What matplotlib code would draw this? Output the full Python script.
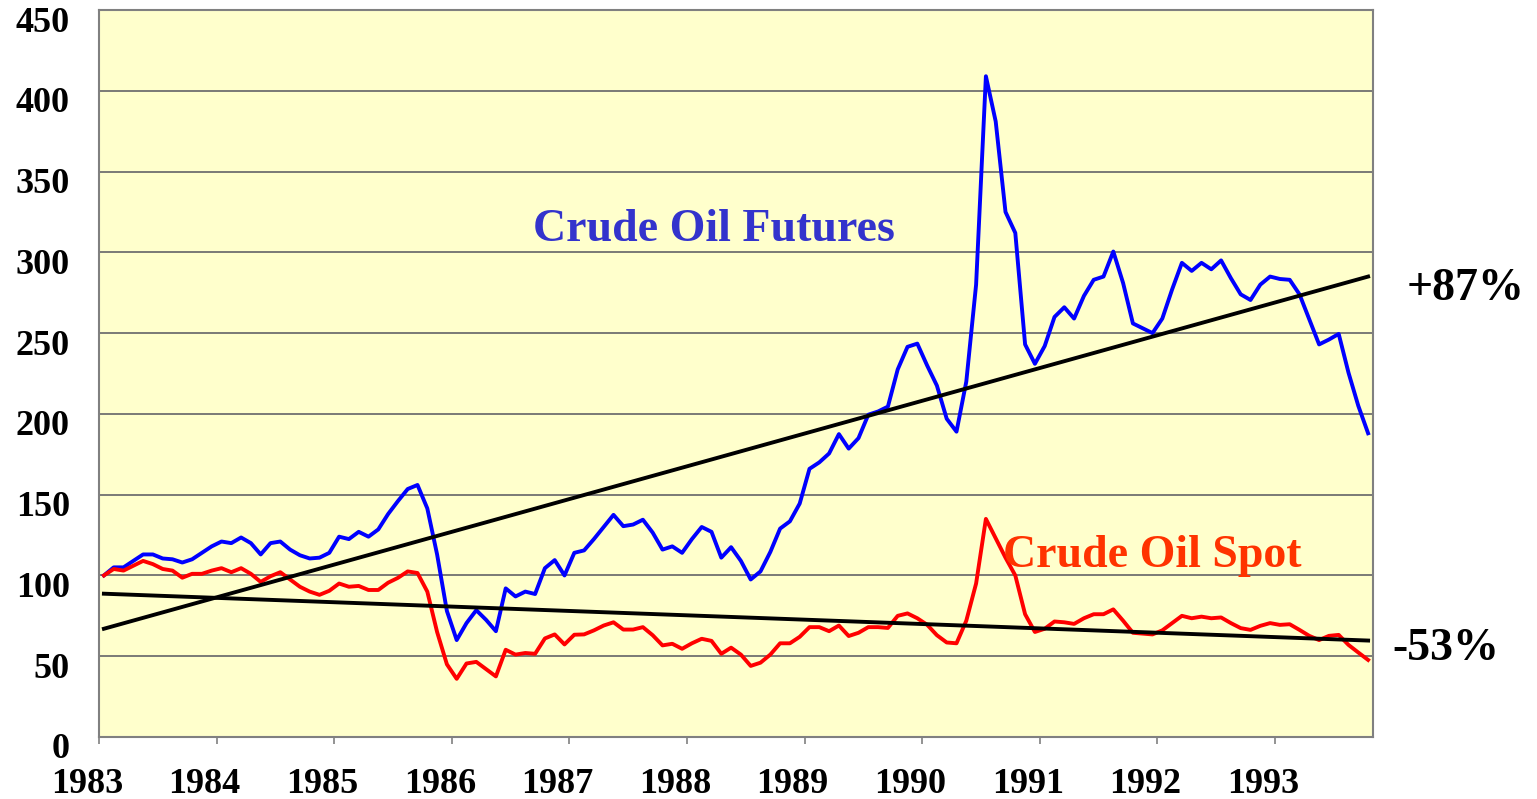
import numpy as np
import matplotlib
matplotlib.use("Agg")
import matplotlib.pyplot as plt
import matplotlib.transforms as mtransforms

# monthly index values, Jan 1983 = 100 (Jan 1983 .. Oct 1993)
futures = [100, 105, 105, 109, 113, 113, 110.5, 110, 108, 110, 114, 118,
           121, 120, 123.5, 120, 113, 120, 121, 116, 112.5, 110.5, 111, 114,
           124, 122.5, 127, 124, 128.5, 138, 146, 153.5, 156, 141.5, 113, 78,
           60, 70.5, 78.5, 72.5, 65.5, 92, 87, 90, 88.5, 104.5, 109.5, 100,
           114, 115.5, 122.5, 130, 137.5, 130.5, 131.5, 134.5, 126.5, 116, 118, 114,
           122.5, 130, 127, 111, 117.5, 109, 97.5, 102.5, 114.5, 129, 133.5, 144.5,
           166, 170, 175.5, 187.5, 178.5, 185, 199.5, 201.5, 204.5, 227.5, 241.5, 243.5,
           230, 217.5, 197, 189, 220, 280, 409, 381, 325, 312, 243, 231,
           242, 260, 266, 259, 273, 283, 285, 300.5, 281, 256, 253, 250,
           259, 277, 293.5, 288.5, 293.5, 289.5, 295, 284, 274, 270.5, 280, 285,
           283.5, 283, 274, 258.5, 243, 246, 249.5, 225.5, 205, 188]
spot = [100, 104, 103, 106, 109, 107, 104, 103, 98.6, 101, 101, 103,
        104.5, 102, 104.5, 101, 96, 99.5, 102, 97.5, 93, 90, 88, 90.5,
        95, 93, 93.5, 91, 91, 95.5, 98.5, 102.5, 101.5, 90, 65, 45,
        36, 45.5, 46.5, 42, 37.5, 54, 51, 52, 51.5, 61, 63.5, 57.3,
        63.3, 63.5, 66, 69, 71, 66.5, 66.5, 68, 63, 56.7, 57.7, 54.6,
        58, 60.8, 59.5, 51.5, 55.3, 51, 44, 46, 51, 58, 58, 62,
        68, 68, 65.5, 69, 62.5, 64.5, 68, 68, 67.5, 75, 76.5, 73.5,
        69.5, 63, 58.5, 58, 72, 95, 135, 123, 111, 100, 76, 65,
        67, 71.5, 71, 70, 73.5, 76, 76, 79, 72, 64.5, 64, 63.5,
        66, 70.5, 75, 73.5, 74.5, 73.5, 74, 70.5, 67.4, 66.3, 68.8, 70.5,
        69.4, 69.8, 66.3, 62.6, 60, 62.6, 63.2, 57, 52.3, 47.7]
futures_trend = [67, 285]   # start / end of trend line
spot_trend = [88.7, 59.7]
years = list(range(1983, 1994))
yticks = list(range(0, 451, 50))

n = len(futures)
x = 1983 + (np.arange(n) + 0.5) / 12.0
x_end = 1983 + n / 12.0

plt.rcParams['font.family'] = ['Liberation Serif', 'DejaVu Serif']
plt.rcParams['font.weight'] = 'bold'

fig = plt.figure(figsize=(15.37, 7.99), dpi=100)
ax = fig.add_axes([99 / 1537, 1 - 737 / 799, (1373 - 99) / 1537, (737 - 10) / 799])
ax.set_facecolor('#FFFFCC')

for yv in yticks[1:-1]:
    ax.axhline(yv, color='#707070', lw=1.3, zorder=1)

ax.plot(x, futures, color='#0000FF', lw=2.8, zorder=3)
ax.plot(x, spot, color='#FF0000', lw=2.8, zorder=3)
ax.plot([x[0], x[-1]], futures_trend, color='black', lw=2.8, zorder=4)
ax.plot([x[0], x[-1]], spot_trend, color='black', lw=2.8, zorder=4)

ax.set_xlim(1983, x_end)
ax.set_ylim(0, 450)
ax.set_xticks(years)
ax.set_xticklabels([str(y) for y in years])
ax.set_yticks(yticks)
ax.tick_params(axis='x', length=5, width=1.2, color='#808080', pad=17, labelsize=26)
ax.tick_params(axis='y', length=0, pad=21, labelsize=26)
for lab in ax.get_xticklabels():
    lab.set_transform(lab.get_transform() + mtransforms.ScaledTranslation(-0.12, 0, fig.dpi_scale_trans))
for lab in ax.get_yticklabels():
    lab.set_transform(lab.get_transform() + mtransforms.ScaledTranslation(0, -0.09, fig.dpi_scale_trans))
for s in ax.spines.values():
    s.set_color('#808080')
    s.set_linewidth(1.5)

ax.text(1986.69, 307, 'Crude Oil Futures', color='#3333CC', fontsize=33,
        fontweight='bold', va='baseline', ha='left', zorder=5)
ax.text(1990.69, 105, 'Crude Oil Spot', color='#FF3300', fontsize=33,
        fontweight='bold', va='baseline', ha='left', zorder=5)
fig.text(1407 / 1537, 1 - 300 / 799, '+87%', color='black', fontsize=33,
         fontweight='bold', va='baseline', ha='left')
fig.text(1392 / 1537, 1 - 660 / 799, '-53%', color='black', fontsize=33,
         fontweight='bold', va='baseline', ha='left')

fig.savefig('out.png', dpi=100, facecolor='white')
